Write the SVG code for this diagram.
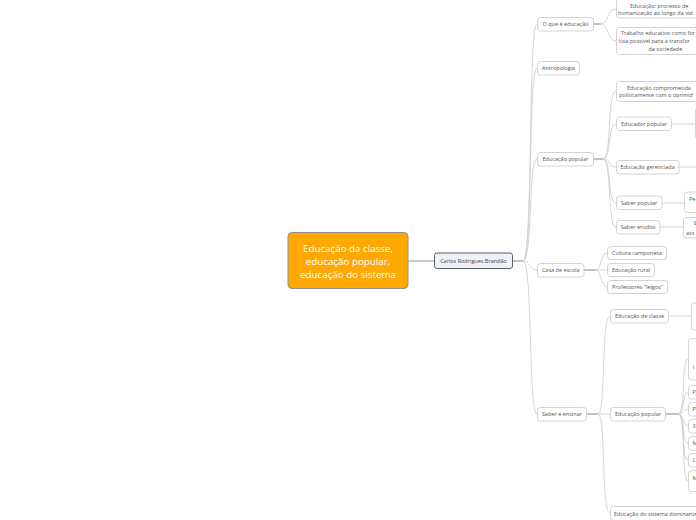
<svg xmlns="http://www.w3.org/2000/svg" width="696" height="520" viewBox="0 0 696 520">
<style>
.n rect{fill:#fff;stroke:#c8c8c8;stroke-width:0.8}
.t{font-family:"Open Sans","Liberation Sans",sans-serif;font-size:5.5px;fill:#555}
.m{text-anchor:middle}
.c{fill:none;stroke:#cfcfcf;stroke-width:0.9}
.s{fill:none;stroke:#999;stroke-width:1.2}
.r{font-family:"Open Sans","Liberation Sans",sans-serif;font-size:9.8px;fill:#fff;text-anchor:middle}
</style>
<rect width="696" height="520" fill="#fff"/>
<g id="connectors">
<path class="c" d="M408,261 L434,261" style="stroke:#c4c4c4;stroke-width:1.8"/>
<path class="s" d="M513,261 L523,261"/>
<path class="c" d="M523,261 C533,261 528,24 537,24"/>
<path class="c" d="M523,261 C533,261 528,68 537,68"/>
<path class="c" d="M523,261 C533,261 528,159 537,159"/>
<path class="c" d="M523,261 C530,261 530,270 537,270"/>
<path class="c" d="M523,261 C533,261 528,414 537,414"/>
<path class="s" d="M593,24 L600,24"/>
<path class="c" d="M600,24 C609,24 607,9 616,9"/>
<path class="c" d="M600,24 C609,24 607,41 616,41"/>
<path class="s" d="M593,159 L603,159"/>
<path class="c" d="M603,159 C612,159 607,91 616,91"/>
<path class="c" d="M603,159 C612,159 607,124 616,124"/>
<path class="c" d="M603,159 C612,159 607,167 616,167"/>
<path class="c" d="M603,159 C612,159 607,203 616,203"/>
<path class="c" d="M603,159 C612,159 607,227 616,227"/>
<path class="s" d="M584,270 L595,270"/>
<path class="c" d="M595,270 C602,270 600,253 607,253"/>
<path class="c" d="M595,270 L607,270"/>
<path class="c" d="M595,270 C602,270 600,287 607,287"/>
<path class="s" d="M586,414 L598,414"/>
<path class="c" d="M598,414 C606,414 601,316 610,316"/>
<path class="c" d="M598,414 L610,414"/>
<path class="c" d="M598,414 C606,414 601,513 610,513"/>
<path class="c" d="M672,124 L695,124"/>
<path class="c" d="M679,167 L696,167"/>
<path class="c" d="M662,203 L684,203"/>
<path class="c" d="M660,227 L683,227"/>
<path class="c" d="M668,316 L691,316"/>
<path class="s" d="M665,414 L678,414"/>
<path class="c" d="M678,414 C686,414 681,359 688,359"/>
<path class="c" d="M678,414 C685,414 682,392 688,392"/>
<path class="c" d="M678,414 C684,414 683,409 688,409"/>
<path class="c" d="M678,414 C684,414 683,426 688,426"/>
<path class="c" d="M678,414 C685,414 682,443 688,443"/>
<path class="c" d="M678,414 C686,414 681,460 688,460"/>
<path class="c" d="M678,414 C686,414 681,481 688,481"/>
</g>
<g id="root">
<rect x="288" y="232.5" width="120" height="56" rx="4" fill="#ffa800" stroke="#8f8f8f" stroke-width="1"/>
<text x="348" y="251.5" class="r">Educação da classe,</text>
<text x="348" y="264.5" class="r">educação popular,</text>
<text x="348" y="277.5" class="r">educação do sistema</text>
</g>
<g id="carlos">
<rect x="434.5" y="253" width="78" height="15.5" rx="2.5" fill="#eef2f8" stroke="#5a5f6a" stroke-width="1"/>
<text x="473.5" y="262.8" class="t m" style="fill:#3c4350">Carlos Rodrigues Brandão</text>
</g>
<g id="oque" class="n"><rect x="537.5" y="17.5" width="56" height="13.5" rx="3"/><text x="565.5" y="26.2" class="t m">O que é educação</text></g>
<g id="antropologia" class="n"><rect x="537.5" y="61.5" width="42" height="13.5" rx="3"/><text x="558.5" y="70.2" class="t m">Antropologia</text></g>
<g id="educpop" class="n"><rect x="537.5" y="152.5" width="56" height="13.5" rx="3"/><text x="565.5" y="161.2" class="t m">Educação popular</text></g>
<g id="casa" class="n"><rect x="537.5" y="263.5" width="46.5" height="13.5" rx="3"/><text x="560.7" y="272.2" class="t m">Casa de escola</text></g>
<g id="saber" class="n"><rect x="537.5" y="407.5" width="49" height="13.5" rx="3"/><text x="562" y="416.2" class="t m">Saber e ensinar</text></g>
<g id="humanizacao" class="n"><rect x="616.5" y="-2" width="96" height="20" rx="3"/><text x="630" y="7.5" class="t">Educação: processo de</text><text x="618" y="15" class="t">humanização ao longo da vid</text></g>
<g id="trabalho" class="n"><rect x="616.5" y="27.5" width="96" height="27" rx="3"/><text x="621" y="35.2" class="t">Trabalho educativo como for</text><text x="618.5" y="42.7" class="t">luta possível para a transfor</text><text x="648.5" y="50.5" class="t">da sociedade</text></g>
<g id="comprometida" class="n"><rect x="616.5" y="81.5" width="96" height="20" rx="3"/><text x="627" y="89.8" class="t">Educação comprometida</text><text x="619" y="97.3" class="t">politicamente com o oprimid</text></g>
<g id="educador" class="n"><rect x="616.5" y="117" width="55" height="13.5" rx="3"/><text x="644" y="125.8" class="t m">Educador popular</text></g>
<g id="gerenciada" class="n"><rect x="616.5" y="160.5" width="62.5" height="13.5" rx="3"/><text x="647.7" y="169.2" class="t m">Educação gerenciada</text></g>
<g id="saberpop" class="n"><rect x="616.5" y="196" width="45.5" height="13.5" rx="3"/><text x="639.2" y="204.8" class="t m">Saber popular</text></g>
<g id="erudito" class="n"><rect x="616.5" y="220.5" width="43.5" height="13.5" rx="3"/><text x="638.2" y="229.2" class="t m">Saber erudito</text></g>
<g id="educador-child" class="n"><rect x="695.5" y="107.5" width="30" height="32" rx="3"/></g>
<g id="saberpop-child" class="n"><rect x="684.5" y="192" width="30" height="20.5" rx="3"/><text x="689" y="201" class="t">Pe</text></g>
<g id="erudito-child" class="n"><rect x="683.5" y="217.5" width="30" height="20.5" rx="3"/><text x="693.5" y="225" class="t">S</text><text x="686" y="234.5" class="t">ass</text></g>
<g id="cultura" class="n"><rect x="607.5" y="246.5" width="59" height="13" rx="3"/><text x="637" y="254.9" class="t m">Cultura camponesa</text></g>
<g id="rural" class="n"><rect x="607.5" y="263.5" width="47" height="13" rx="3"/><text x="631" y="271.9" class="t m">Educação rural</text></g>
<g id="leigos" class="n"><rect x="607.5" y="280.5" width="60" height="13" rx="3"/><text x="637.5" y="288.9" class="t m">Professores "leigos"</text></g>
<g id="classe" class="n"><rect x="610.5" y="309.5" width="58" height="13.5" rx="3"/><text x="639.5" y="318.2" class="t m">Educação de classe</text></g>
<g id="classe-child" class="n"><rect x="691.5" y="303" width="30" height="27" rx="3"/></g>
<g id="educpop2" class="n"><rect x="610.5" y="407.5" width="55" height="13.5" rx="3"/><text x="638" y="416.2" class="t m">Educação popular</text></g>
<g id="dominante" class="n"><rect x="610.5" y="506.5" width="92" height="14" rx="3"/><text x="614" y="515.5" class="t">Educação do sistema dominante</text></g>
<g id="ep-1" class="n"><rect x="688.5" y="338.5" width="30" height="41.5" rx="3"/><text x="693" y="368.5" class="t">I</text></g>
<g id="ep-2" class="n"><rect x="688.5" y="385.5" width="30" height="13.5" rx="3"/><text x="692.5" y="394.3" class="t">P</text></g>
<g id="ep-3" class="n"><rect x="688.5" y="402.5" width="30" height="13.5" rx="3"/><text x="692.5" y="411.3" class="t">P</text></g>
<g id="ep-4" class="n"><rect x="688.5" y="419.5" width="30" height="13.5" rx="3"/><text x="692.5" y="428.3" class="t">3</text></g>
<g id="ep-5" class="n"><rect x="688.5" y="436.5" width="30" height="13.5" rx="3"/><text x="692.5" y="445.3" class="t">M</text></g>
<g id="ep-6" class="n"><rect x="688.5" y="453.5" width="30" height="13.5" rx="3"/><text x="692.5" y="462.3" class="t">L</text></g>
<g id="ep-7" class="n"><rect x="688.5" y="470.5" width="30" height="21" rx="3"/><text x="692.5" y="479.8" class="t">M</text></g>
</svg>
